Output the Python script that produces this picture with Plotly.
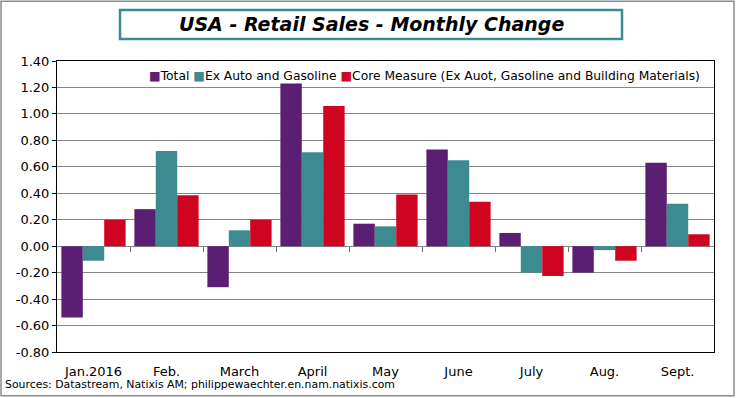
import plotly.graph_objects as go

months = ["Jan.2016", "Feb.", "March", "April", "May", "June", "July", "Aug.", "Sept."]
total = [-0.54, 0.28, -0.31, 1.23, 0.17, 0.73, 0.10, -0.20, 0.63]
ex_auto_gas = [-0.11, 0.72, 0.12, 0.71, 0.15, 0.65, -0.20, -0.03, 0.32]
core = [0.20, 0.385, 0.20, 1.06, 0.39, 0.335, -0.225, -0.11, 0.09]
yticks = [-0.8, -0.6, -0.4, -0.2, 0.0, 0.2, 0.4, 0.6, 0.8, 1.0, 1.2, 1.4]

FONT = "DejaVu Sans"
colors = ["#5A1E73", "#3C8B91", "#CF0420"]
names = ["Total", "Ex Auto and Gasoline",
         "Core Measure (Ex Auot, Gasoline and Building Materials)"]

x_idx = list(range(len(months)))
fig = go.Figure()
for vals, name, col in zip([total, ex_auto_gas, core], names, colors):
    fig.add_trace(go.Bar(x=x_idx, y=vals, name=name, marker_color=col,
                         marker_line_width=0))

# invisible trace on xaxis2 so tick marks appear at the zero line
fig.add_trace(go.Scatter(x=[0, len(months) - 1], y=[0, 0], xaxis="x2", yaxis="y",
                         showlegend=False, mode="markers",
                         marker=dict(opacity=0), hoverinfo="skip"))

zero_pos = (0 - yticks[0]) / (yticks[-1] - yticks[0])

legend_text = "".join(
    f"<span style='color:{c}'>■</span>{n}" + (" " if i < len(names) - 1 else "")
    for i, (n, c) in enumerate(zip(names, colors))
)

fig.update_layout(
    width=736, height=398,
    margin=dict(l=57, r=22, t=61, b=46),
    paper_bgcolor="white", plot_bgcolor="white",
    barmode="group", bargap=0.12, bargroupgap=0,
    font=dict(family=FONT, size=12, color="black"),
    showlegend=False,
    xaxis=dict(range=[-0.5, len(months) - 0.5], tickvals=x_idx, ticktext=months,
               showgrid=False, zeroline=False, showline=True, linecolor="black",
               linewidth=1, mirror=True, ticks="", ticklabelstandoff=7,
               tickfont=dict(size=13, family=FONT)),
    xaxis2=dict(range=[-0.5, len(months) - 0.5], overlaying="x", anchor="free",
                position=zero_pos, side="bottom", showgrid=False, zeroline=False,
                showline=False, tickmode="array",
                tickvals=[i + 0.5 for i in x_idx[:-1]], ticks="outside", ticklen=5,
                tickwidth=1.2, tickcolor="#6F6F6F", showticklabels=False),
    yaxis=dict(range=[yticks[0], yticks[-1]], tickvals=yticks,
               ticktext=[f"{v:.2f}" for v in yticks],
               showgrid=True, gridcolor="#868686", gridwidth=1,
               zeroline=True, zerolinecolor="#868686", zerolinewidth=1,
               showline=True, linecolor="black", linewidth=1, mirror=True,
               ticks="outside", ticklen=4, tickcolor="black",
               tickfont=dict(size=13, family=FONT)),
    shapes=[
        dict(type="rect", xref="paper", yref="paper",
             x0=-0.0852, x1=1.0304, y0=-0.150, y1=1.205,
             line=dict(color="#8C8C8C", width=1.5), layer="below"),
        dict(type="rect", xref="paper", yref="paper",
             x0=0.0959, x1=0.860, y0=1.0756, y1=1.175,
             line=dict(color="#3C8B91", width=2.5), layer="above"),
    ],
    annotations=[
        dict(text="<b><i>USA - Retail Sales - Monthly Change</i></b>",
             xref="paper", yref="paper", x=0.478, y=1.127,
             xanchor="center", yanchor="middle", showarrow=False,
             font=dict(family=FONT, size=19, color="black")),
        dict(text=legend_text,
             xref="paper", yref="paper", x=0.982, y=0.948,
             xanchor="right", yanchor="middle", showarrow=False,
             font=dict(family=FONT, size=12.3, color="black")),
        dict(text="Sources: Datastream, Natixis AM; philippewaechter.en.nam.natixis.com",
             xref="paper", yref="paper", x=-0.082, y=-0.113,
             xanchor="left", yanchor="middle", showarrow=False,
             font=dict(family=FONT, size=10.9, color="black")),
    ],
)

fig.write_html("out.html", config={"displayModeBar": False},
               post_script="document.body.style.margin='0px';")
